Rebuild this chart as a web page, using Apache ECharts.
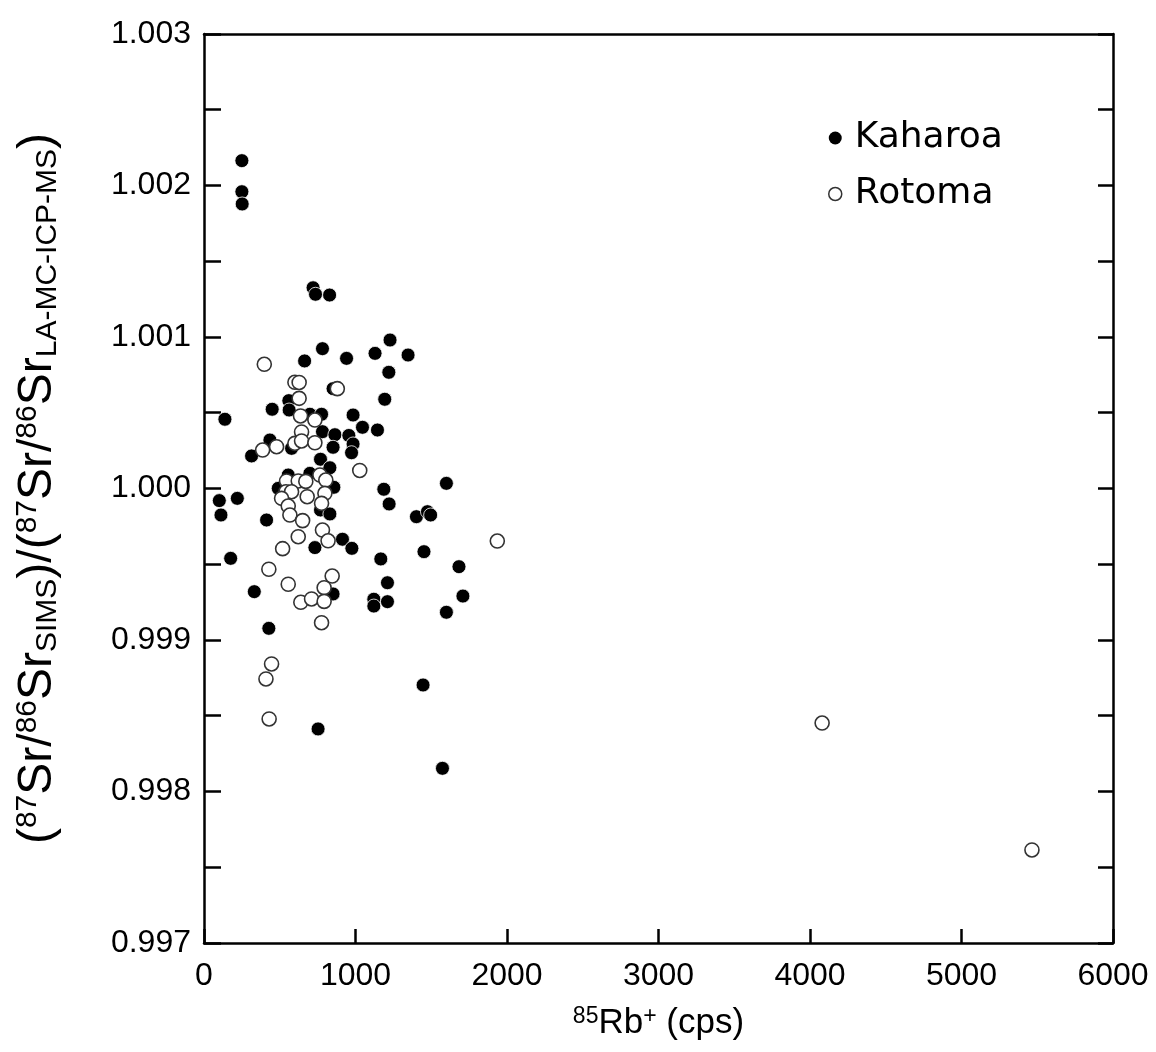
<!DOCTYPE html>
<html>
<head>
<meta charset="utf-8">
<script src="https://cdn.jsdelivr.net/npm/echarts@6/dist/echarts.min.js"></script>
<style>
html,body{margin:0;padding:0;background:#fff;}
#chart{width:1156px;height:1052px;}
</style>
</head>
<body>
<div id="chart"></div>
<script>
// Kaharoa: [85Rb+ cps, ratio]
const kaharoa = [
  [250,1.002164],[250,1.001959],[252,1.001878],
  [720,1.001325],[736,1.001282],[829,1.001277],
  [1228,1.000980],[1347,1.000881],[1129,1.000892],[941,1.000859],[782,1.000923],[664,1.000842],
  [1220,1.000767],[852,1.000659],[560,1.000580],[1193,1.000589],[450,1.000523],[562,1.000518],
  [699,1.000490],[776,1.000490],[984,1.000485],[138,1.000457],[1046,1.000404],[1145,1.000386],
  [782,1.000375],[864,1.000355],[956,1.000350],[435,1.000320],[314,1.000215],[578,1.000265],
  [852,1.000272],[984,1.000294],[974,1.000236],[769,1.000193],[831,1.000137],[699,1.000100],
  [556,1.000089],[857,1.000008],[490,1.000001],[101,0.999920],[220,0.999935],[112,0.999825],
  [413,0.999792],[769,0.999858],[831,0.999832],[914,0.999665],[976,0.999605],[732,0.999610],
  [1187,0.999995],[1222,0.999898],[1600,1.000034],[1402,0.999814],[1475,0.999847],[1496,0.999825],
  [1452,0.999583],[176,0.999539],[1167,0.999535],[1683,0.999484],[1709,0.999290],[1600,0.999183],
  [1211,0.999378],[1121,0.999269],[1121,0.999224],[1211,0.999253],[852,0.999304],[332,0.999319],
  [428,0.999077],[1446,0.998703],[753,0.998413],[1574,0.998153]
];
// Rotoma: [85Rb+ cps, ratio]
const rotoma = [
  [398,1.000820],[600,1.000701],[628,1.000700],[880,1.000659],[628,1.000595],[637,1.000479],
  [732,1.000452],[644,1.000373],[387,1.000254],[479,1.000276],[600,1.000298],[644,1.000314],
  [732,1.000302],[1028,1.000119],[545,1.000050],[622,1.000050],[672,1.000047],[765,1.000089],
  [804,1.000056],[541,0.999979],[578,0.999979],[512,0.999935],[681,0.999946],[798,0.999968],
  [776,0.999902],[556,0.999884],[567,0.999825],[651,0.999788],[782,0.999726],[622,0.999682],
  [819,0.999655],[519,0.999603],[1936,0.999653],[428,0.999467],[556,0.999368],[846,0.999422],
  [793,0.999345],[639,0.999249],[710,0.999271],[793,0.999255],[776,0.999114],[446,0.998842],
  [409,0.998743],[430,0.998479],[4080,0.998452],[5465,0.997614]
];
const xTicks = {min:0, max:6000, interval:1000};
const yTicks = {min:0.997, max:1.003, interval:0.0005};

const chart = echarts.init(document.getElementById('chart'));
const FONT = 'Liberation Sans, Arial, sans-serif';
const NARROW = 'Liberation Sans Narrow, Liberation Sans, sans-serif';
const axisLineStyle = {color:'#000', width:2.5};
const yLabelFmt = v => (Math.round(v*2000) % 2 === 0) ? v.toFixed(3) : '';
const xLabelFmt = v => String(Math.round(v));

chart.setOption({
  animation:false,
  backgroundColor:'#fff',
  grid:{left:204, right:43, top:34, bottom:109, containLabel:false},
  legend:{
    orient:'vertical', left:823, top:115, itemWidth:13, itemHeight:13, itemGap:20,
    textStyle:{fontFamily:'DejaVu Sans, sans-serif', fontSize:36, color:'#000', padding:[0,0,0,8]},
    data:[
      {name:'Kaharoa', icon:'circle', itemStyle:{color:'#000', borderWidth:0}},
      {name:'Rotoma', icon:'circle', itemStyle:{color:'#fff', borderColor:'#333', borderWidth:1.5}}
    ]
  },
  xAxis:[{
    type:'value', position:'bottom', min:xTicks.min, max:xTicks.max, interval:xTicks.interval,
    axisLine:{show:true, onZero:false, lineStyle:axisLineStyle},
    axisTick:{show:true, inside:true, length:14, lineStyle:{color:'#000', width:2.5}},
    axisLabel:{show:true, margin:17, fontFamily:FONT, fontSize:32, color:'#000', formatter:xLabelFmt,
      showMinLabel:true, showMaxLabel:true},
    splitLine:{show:false},
    name:'{sup|85}Rb{sup|+} (cps)', nameLocation:'middle', nameGap:62,
    nameTextStyle:{fontFamily:FONT, fontSize:35, color:'#000',
      rich:{sup:{fontSize:23, verticalAlign:'top', fontFamily:FONT, color:'#000', padding:[0,0,13,0]}}}
  },{
    type:'value', position:'top', min:xTicks.min, max:xTicks.max, interval:xTicks.interval,
    axisLine:{show:true, onZero:false, lineStyle:axisLineStyle},
    axisTick:{show:false}, axisLabel:{show:false}, splitLine:{show:false}
  }],
  yAxis:[{
    type:'value', position:'left', min:yTicks.min, max:yTicks.max, interval:yTicks.interval,
    axisLine:{show:true, onZero:false, lineStyle:axisLineStyle},
    axisTick:{show:true, inside:true, length:17, lineStyle:{color:'#000', width:2.5}},
    axisLabel:{show:true, margin:13, fontFamily:FONT, fontSize:32, color:'#000', formatter:yLabelFmt,
      showMinLabel:true, showMaxLabel:true},
    splitLine:{show:false},
    name:'({sup|87}Sr/{sup|86}Sr{sub|SIMS})/({sup|87}Sr/{sup|86}Sr{sub|LA-MC-ICP-MS})',
    nameLocation:'middle', nameGap:141, nameRotate:90,
    nameTextStyle:{fontFamily:NARROW, fontSize:48, color:'#000',
      rich:{
        sup:{fontSize:30, verticalAlign:'top', fontFamily:NARROW, color:'#000', padding:[0,0,20,0]},
        sub:{fontSize:30, verticalAlign:'bottom', fontFamily:NARROW, color:'#000', padding:[12,0,0,0]}
      }}
  },{
    type:'value', position:'right', min:yTicks.min, max:yTicks.max, interval:yTicks.interval,
    axisLine:{show:true, onZero:false, lineStyle:axisLineStyle},
    axisTick:{show:true, inside:true, length:15, lineStyle:{color:'#000', width:2.5}},
    axisLabel:{show:false}, splitLine:{show:false}
  }],
  series:[
    {name:'Kaharoa', type:'scatter', data:kaharoa, symbol:'circle', symbolSize:14,
      itemStyle:{color:'#000', borderColor:'#fff', borderWidth:0.8, opacity:1}},
    {name:'Rotoma', type:'scatter', data:rotoma, symbol:'circle', symbolSize:14,
      itemStyle:{color:'#fff', borderColor:'#333', borderWidth:1.6, opacity:1}}
  ]
});
</script>
</body>
</html>
